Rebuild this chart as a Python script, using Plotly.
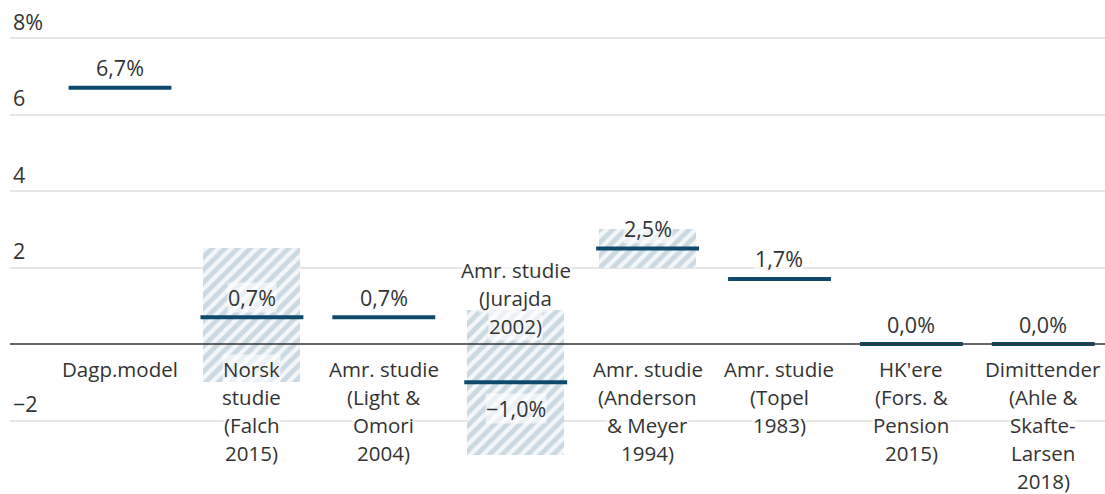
import plotly.graph_objects as go

# ---- data ----
categories = [
    ["Dagp.model"],
    ["Norsk", "studie", "(Falch", "2015)"],
    ["Amr. studie", "(Light &", "Omori", "2004)"],
    ["Amr. studie", "(Jurajda", "2002)"],
    ["Amr. studie", "(Anderson", "& Meyer", "1994)"],
    ["Amr. studie", "(Topel", "1983)"],
    ["HK'ere", "(Fors. &", "Pension", "2015)"],
    ["Dimittender", "(Ahle &", "Skafte-", "Larsen", "2018)"],
]
estimates = [6.7, 0.7, 0.7, -1.0, 2.5, 1.7, 0.0, 0.0]
value_labels = ["6,7%", "0,7%", "0,7%", "−1,0%", "2,5%", "1,7%", "0,0%", "0,0%"]
range_low = [None, -1.0, None, -2.9, 2.0, None, None, None]
range_high = [None, 2.5, None, 0.9, 3.0, None, None, None]
tick_vals = [-2, 2, 4, 6, 8]
tick_text = ["−2", "2", "4", "6", "8%"]

# ---- style ----
FONT = "Open Sans"
TXT = "#333333"
NAVY = "#0f4a6c"
HALF_LINE = 0.39
BOX_W = 0.735
CAT_SIZE = 20.5
VAL_SIZE = 21.5

idx = list(range(len(categories)))
fig = go.Figure()

# hatched ranges
bx, bbase, bh = [], [], []
for i, lo, hi in zip(idx, range_low, range_high):
    if lo is not None:
        bx.append(i)
        bbase.append(lo)
        bh.append(hi - lo)
fig.add_trace(go.Bar(
    x=bx, y=bh, base=bbase, width=BOX_W,
    marker=dict(color="#f4f7f9", line=dict(width=0),
                pattern=dict(shape="/", fgcolor="#a2bccc", bgcolor="#f4f7f9",
                             size=9, solidity=0.55)),
    hoverinfo="skip", showlegend=False,
))

# estimate lines
lx, ly = [], []
for i, v in zip(idx, estimates):
    lx += [i - HALF_LINE, i + HALF_LINE, None]
    ly += [v, v, None]
fig.add_trace(go.Scatter(x=lx, y=ly, mode="lines",
                         line=dict(color=NAVY, width=4),
                         hoverinfo="skip", showlegend=False))

annotations = []
# value labels
for i, v, t in zip(idx, estimates, value_labels):
    annotations.append(dict(
        x=i, y=v, xref="x", yref="y", text=t, showarrow=False,
        yanchor="middle", yshift=(20 if v >= 0 else -26),
        font=dict(family=FONT, size=VAL_SIZE, color=TXT),
        bgcolor="rgba(255,255,255,0.6)", borderpad=0,
    ))
# category labels (one line each for exact spacing)
for i, v, lines in zip(idx, estimates, categories):
    n = len(lines)
    for k, ln in enumerate(lines):
        if v >= 0:
            ys = -(25 + 28 * k)
        else:
            ys = 18 + 28 * (n - 1 - k)
        annotations.append(dict(
            x=i, y=0, xref="x", yref="y", text=ln, showarrow=False,
            yanchor="middle", yshift=ys,
            font=dict(family=FONT, size=CAT_SIZE, color=TXT),
            bgcolor="rgba(255,255,255,0.6)", borderpad=0,
        ))

fig.update_layout(
    width=1105, height=494,
    margin=dict(l=10, r=0, t=5, b=10, autoexpand=False),
    plot_bgcolor="white", paper_bgcolor="white",
    font=dict(family=FONT, size=VAL_SIZE, color=TXT),
    xaxis=dict(range=[-0.834, 7.468], showgrid=False, zeroline=False,
               showticklabels=False, ticks="", showline=False,
               automargin=False, fixedrange=True),
    yaxis=dict(range=[-3.660, 8.863], tickvals=tick_vals, ticktext=tick_text,
               showgrid=True, gridcolor="#e6e6e6", gridwidth=1.5,
               zeroline=False, showline=False, ticks="",
               ticklabelposition="inside", ticklabelshift=-16,
               ticklabelstandoff=0, automargin=False,
               tickfont=dict(family=FONT, size=VAL_SIZE, color=TXT), fixedrange=True),
    shapes=[dict(type="line", xref="paper", yref="y", x0=0, x1=1, y0=0, y1=0,
                 line=dict(color="#333333", width=1.3), layer="above")],
    annotations=annotations,
    bargap=0,
)

fig.write_html("out.html", config={"displayModeBar": False},
               post_script="document.body.style.margin='0';")
